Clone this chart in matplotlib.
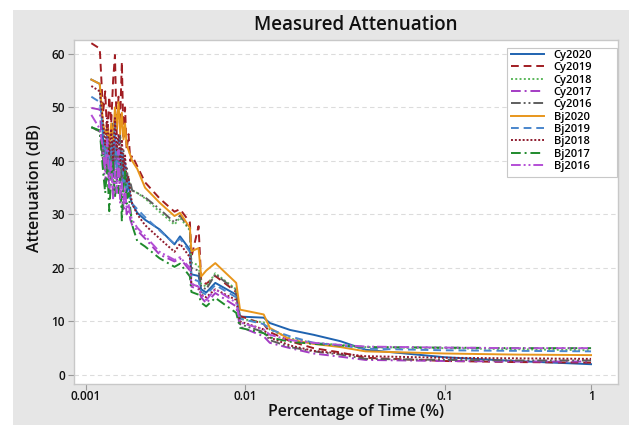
import numpy as np
import matplotlib
matplotlib.use("Agg")
import matplotlib.pyplot as plt
from matplotlib.patches import Rectangle

# ---------------- data ----------------
pct_time = [0.00108, 0.00122, 0.00128, 0.00132, 0.00136, 0.0014, 0.00144, 0.00148,
            0.00152, 0.00156, 0.0016, 0.00164, 0.00168, 0.00172, 0.00176, 0.0018,
            0.00185, 0.0019, 0.00195, 0.0021, 0.00235, 0.0029, 0.0036, 0.0039,
            0.0045, 0.0046, 0.0051, 0.0053, 0.0057, 0.0065, 0.0088, 0.0093,
            0.0124, 0.0133, 0.0168, 0.022, 0.03, 0.04, 0.1, 0.3, 1.0]

cy2020 = [55.2, 54.4, 44, 40, 43, 38, 42, 37, 44, 39, 42, 36, 40, 35, 38, 34, 36, 33, 32, 30.3,
          29, 27.2, 24.4, 25.9, 23.4, 18.8, 18.5, 16, 15.4, 17.2, 15, 10.9, 10.7, 9.7, 8.4,
          7.5, 6.3, 4.7, 3.3, 2.6, 2.0]
cy2019 = [62, 61, 49, 53, 44, 52, 47, 55, 59.8, 45, 52, 48, 58.5, 44, 50, 42, 45, 40, 41, 39,
          36, 33, 30.5, 31, 28.5, 22, 27.8, 17.6, 17, 18.5, 15.5, 11, 9.5, 8, 6.3,
          5, 4.2, 3.2, 2.6, 2.4, 2.3]
cy2018 = [46.3, 45.5, 42, 38, 43, 37, 41, 36, 44, 38, 42, 37, 40, 36, 39, 35, 37, 35, 34.5, 34,
          33, 30.5, 28.1, 29.4, 27, 21, 20.5, 17, 16.5, 19, 16, 10.5, 9.8, 8.5, 6.8,
          6, 5.6, 5.2, 5.0, 4.8, 4.6]
cy2017 = [49.9, 49.6, 40, 36, 42, 34, 40, 33, 45, 35, 41, 32, 38, 31, 34, 30, 31, 29, 28, 27,
          25.5, 22.5, 21.2, 21.8, 19.5, 16.5, 16, 14.5, 13.4, 15.3, 12.8, 9, 7.2, 6, 5,
          4, 3.4, 2.8, 2.6, 2.5, 2.5]
cy2016 = [46.3, 45.5, 40, 44, 38, 45, 39, 47, 40, 43, 38, 45, 37, 42, 36, 39, 35, 36, 34.5, 34,
          33.2, 31, 28.5, 29.8, 27.2, 20, 19.5, 16.5, 16, 18.8, 15.8, 9.5, 8, 6.5, 5.2,
          4.4, 3.8, 3.0, 2.8, 2.7, 2.7]
bj2020 = [55.2, 54.4, 47, 45, 46, 43, 47, 44, 50, 46, 51, 45, 49, 44, 47, 43, 42, 41, 40, 38.5,
          35, 32.2, 29.7, 30.3, 27.5, 23.1, 23.7, 18.4, 19.5, 20.9, 17.2, 12.2, 11.3, 8.8, 6.6,
          5.8, 5.2, 4.4, 4.0, 3.8, 3.7]
bj2019 = [52, 51, 46, 41, 45, 38, 43, 40, 47, 37, 44, 39, 42, 36, 40, 35, 37, 33, 32, 31,
          29.5, 27, 24.5, 25.5, 23, 18, 17.5, 15.5, 15, 16.8, 14.5, 10.5, 9.5, 8.5, 7.2,
          6, 5.5, 4.9, 4.6, 4.5, 4.4]
bj2018 = [54, 53, 47, 43, 48, 41, 46, 40, 48, 42, 45, 39, 44, 38, 41, 36, 37, 34, 32, 30,
          28, 25.5, 23, 24.5, 22, 17, 16.5, 15, 14.5, 16, 14, 10, 8.5, 7, 5.5,
          4.5, 4, 3.5, 3.2, 3.1, 3.0]
bj2017 = [46.3, 45.7, 38, 34, 39, 30.6, 37, 40, 33, 38, 34, 37, 28.7, 36, 38, 32, 34, 31, 28, 25,
          24, 21.8, 20.2, 20.8, 18.4, 15.5, 15, 13.5, 12.8, 14.4, 11.6, 8.8, 7.8, 7, 6.2,
          5.8, 5.5, 5.2, 5.1, 5.0, 5.0]
bj2016 = [48.6, 46, 42, 38, 44, 35, 40, 33, 38, 34, 42, 33, 36, 32, 35, 31, 32, 30, 29, 27.5,
          26, 23, 21.5, 22, 20, 17, 16.5, 15, 14, 16, 13.5, 9.8, 8.5, 7.5, 6.5,
          6, 5.6, 5.3, 5.1, 5.0, 5.0]

series_names = ["Cy2020", "Cy2019", "Cy2018", "Cy2017", "Cy2016",
                "Bj2020", "Bj2019", "Bj2018", "Bj2017", "Bj2016"]
x_ticks = [0.001, 0.01, 0.1, 1]
x_tick_labels = ["0.001", "0.01", "0.1", "1"]
y_ticks = [0, 10, 20, 30, 40, 50, 60]

# ---------------- styles ----------------
series_values = [cy2020, cy2019, cy2018, cy2017, cy2016, bj2020, bj2019, bj2018, bj2017, bj2016]
colors = ["#1f63b0", "#a11d22", "#5cb85c", "#a43cc4", "#5e5e5e",
          "#e8961c", "#4a86cc", "#8e1b2e", "#1f8a2c", "#b44fd6"]
styles = ["-", (0, (4, 2.5)), (0, (1, 1.2)), (0, (5, 2, 1, 2)), (0, (5, 1.5, 1, 1.5, 1, 1.5)),
          "-", (0, (4, 2.5)), (0, (1, 1)), (0, (5, 2, 1, 2)), (0, (5, 1.5, 1, 1.5, 1, 1.5))]

# piecewise-log axis as drawn in the reference
dec_log = np.array([-3.0, -2.0, -1.0, 0.0])
dec_pos = np.array([0.0, 159.0, 359.0, 505.0])

def _pw(v, xs, ys):
    v = np.asarray(v, dtype=float)
    out = np.interp(v, xs, ys)
    lo = v < xs[0]
    hi = v > xs[-1]
    s0 = (ys[1] - ys[0]) / (xs[1] - xs[0])
    s1 = (ys[-1] - ys[-2]) / (xs[-1] - xs[-2])
    out = np.where(lo, ys[0] + (v - xs[0]) * s0, out)
    out = np.where(hi, ys[-1] + (v - xs[-1]) * s1, out)
    return out

def fwd(x):
    x = np.asarray(x, dtype=float)
    with np.errstate(divide="ignore", invalid="ignore"):
        lx = np.log10(np.where(x > 0, x, 1e-12))
    return _pw(lx, dec_log, dec_pos)

def inv(u):
    return 10 ** _pw(u, dec_pos, dec_log)

W, H = 629, 425
fig = plt.figure(figsize=(W / 100, H / 100), dpi=100, facecolor="white")
fig.patches.append(Rectangle((13 / W, 0), 1 - 13 / W, (H - 10) / H, transform=fig.transFigure,
                             facecolor="#e6e6e6", edgecolor="none", zorder=-10))

ax = fig.add_axes([74 / W, 41 / H, (618 - 74) / W, (384 - 40) / H])
ax.set_facecolor("white")
ax.set_xscale("function", functions=(fwd, inv))
ax.set_xlim(0.00084, 1.53)
ax.set_ylim(-1.7, 62.6)

for name, vals, c, ls in zip(series_names, series_values, colors, styles):
    ax.plot(pct_time, vals, color=c, linestyle=ls, linewidth=1.4, label=name)

ax.set_xticks(x_ticks)
ax.set_xticklabels(x_tick_labels)
ax.xaxis.set_minor_locator(matplotlib.ticker.NullLocator())
ax.set_yticks(y_ticks)
ax.yaxis.grid(True, color="#dcdcdc", linestyle=(0, (4, 3)), linewidth=0.8)
ax.set_axisbelow(True)

font = "Open Sans"
for sp in ax.spines.values():
    sp.set_color("#c8c8c8")
    sp.set_linewidth(1.0)
ax.tick_params(axis="both", colors="#9a9a9a", length=4, width=0.8, labelcolor="#111111",
               labelsize=8.5, pad=2.5)
ax.tick_params(axis="x", pad=0.5)
for lab in ax.get_xticklabels() + ax.get_yticklabels():
    lab.set_fontfamily(font)
    lab.set_fontweight("semibold")

fig.text(356 / W, 1 - 412 / H, "Percentage of Time (%)", ha="center", va="center",
         fontsize=11.5, fontfamily=font, fontweight="semibold", color="#111111")
fig.text(35 / W, 1 - 188 / H, "Attenuation (dB)", ha="center", va="center", rotation=90,
         fontsize=11.5, fontfamily=font, fontweight="semibold", color="#111111")
fig.text(356 / W, 1 - 25 / H, "Measured Attenuation", ha="center", va="center",
         fontsize=13.5, fontfamily=font, fontweight="semibold", color="#111111")

# legend: frame drawn as its own box, entries placed inside it
frame = Rectangle((507 / W, 1 - 177 / H), (617 - 507) / W, (177 - 48) / H,
                  transform=fig.transFigure, facecolor="white",
                  edgecolor="#c8c8c8", linewidth=0.8, zorder=5, clip_on=False)
ax.add_patch(frame)
leg = ax.legend(loc="upper left", bbox_to_anchor=(511 / W, 1 - 50 / H),
                bbox_transform=fig.transFigure, frameon=False,
                handlelength=3.0, handletextpad=0.85, labelspacing=0.12,
                borderpad=0.0, borderaxespad=0.0,
                prop={"family": font, "size": 8.0, "weight": "semibold"})
leg.set_zorder(6)

fig.savefig("out.png", dpi=100, facecolor=fig.get_facecolor())
